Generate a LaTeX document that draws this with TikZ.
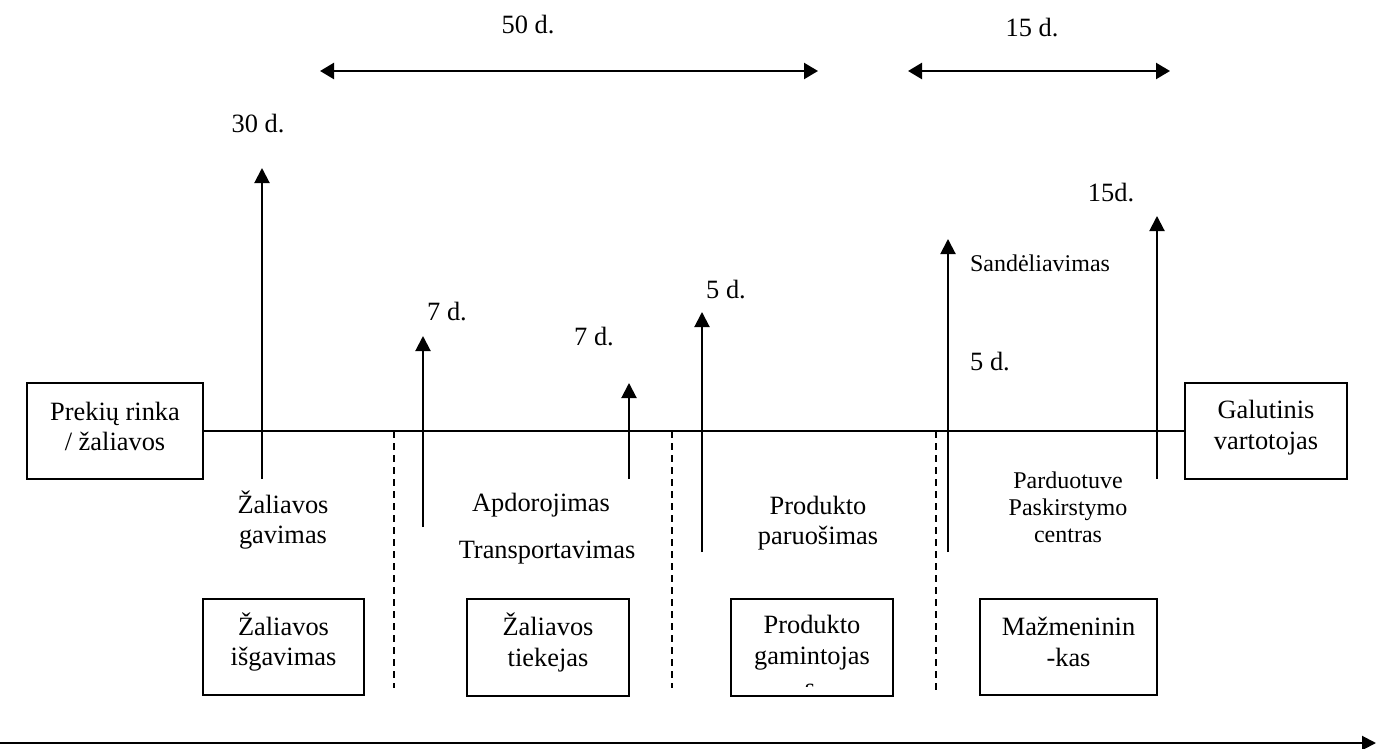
\documentclass[tikz,border=0pt]{standalone}
\usepackage{fontspec}
\setmainfont{Liberation Serif}
\usetikzlibrary{arrows.meta}
\begin{document}
\begin{tikzpicture}[x=0.5pt,y=-0.5pt,
  txt/.style={font=\fontsize{13.2}{15.3}\selectfont, inner sep=0pt, align=center},
  smalltxt/.style={font=\fontsize{12}{13.5}\selectfont, inner sep=0pt, align=center},
  box/.style={draw, line width=1pt, inner sep=0pt},
  flow/.style={line width=1pt},
  uparrow/.style={line width=1pt, -{Triangle[length=7.5pt,width=7.5pt]}},
  span/.style={line width=1.2pt, {Triangle[length=7pt,width=8pt]}-{Triangle[length=7pt,width=8pt]}},
  divider/.style={line width=0.8pt, dash pattern=on 3.5pt off 2.5pt},
  timeaxis/.style={line width=1pt, -{Triangle[length=7pt,width=7pt]}}]
\useasboundingbox (0,0) rectangle (1376,749);

% end points of the supply chain
\node[box, minimum width=88pt, minimum height=48pt] (market) at (115,431) {};
\node[txt] at ([yshift=2.2pt]market.center) {Prekių rinka\\/ žaliavos};
\node[box, minimum width=81pt, minimum height=48pt] (consumer) at (1266,431) {};
\node[txt] at ([yshift=1.8pt]consumer.center) {Galutinis\\vartotojas};
\draw[flow] (market.east) -- (consumer.west);

% participants
\node[box, minimum width=80.5pt, minimum height=48pt] (extract) at (283.5,647) {};
\node[txt] at ([yshift=2.4pt]extract.center) {Žaliavos\\išgavimas};
\node[box, minimum width=81pt, minimum height=48.5pt] (supplier) at (548,647.5) {};
\node[txt] at ([yshift=2.4pt]supplier.center) {Žaliavos\\tiekejas};
\node[box, minimum width=81pt, minimum height=48.5pt] (producer) at (812,647.5) {};
\node[txt] at ([yshift=2.4pt]producer.center) {Produkto\\gamintojas};
\node[box, minimum width=88.5pt, minimum height=48pt] (retailer) at (1068.5,647) {};
\node[txt] at ([yshift=2.4pt]retailer.center) {Mažmeninin\\-kas};
\begin{scope}
  \clip (795,680) rectangle (825,686);
  \node[txt] at (810,690) {s};
\end{scope}

% stage dividers
\coordinate (d1t) at (394,431); \coordinate (d1b) at (394,688);
\coordinate (d2t) at (672,431); \coordinate (d2b) at (672,688);
\coordinate (d3t) at (936,431); \coordinate (d3b) at (936,690);
\draw[divider] (d1t) -- (d1b);
\draw[divider] (d2t) -- (d2b);
\draw[divider] (d3t) -- (d3b);

% duration arrows
\coordinate (a1b) at (262,479); \coordinate (a1t) at (262,168);
\coordinate (a2b) at (423,527); \coordinate (a2t) at (423,336);
\coordinate (a3b) at (629,479); \coordinate (a3t) at (629,383);
\coordinate (a4b) at (702,552); \coordinate (a4t) at (702,312);
\coordinate (a5b) at (948,552); \coordinate (a5t) at (948,239);
\coordinate (a6b) at (1157,479); \coordinate (a6t) at (1157,216);
\draw[uparrow] (a1b) -- (a1t);
\draw[uparrow] (a2b) -- (a2t);
\draw[uparrow] (a3b) -- (a3t);
\draw[uparrow] (a4b) -- (a4t);
\draw[uparrow] (a5b) -- (a5t);
\draw[uparrow] (a6b) -- (a6t);

% overall spans
\coordinate (s1l) at (320,71); \coordinate (s1r) at (818,71);
\coordinate (s2l) at (908,71); \coordinate (s2r) at (1170,71);
\draw[span] (s1l) -- (s1r);
\draw[span] (s2l) -- (s2r);
\node[txt] (t50) at (528,25) {50 d.};
\node[txt] (t15a) at (1032,28) {15 d.};

% durations
\node[txt] (t30) at (258,124) {30 d.};
\node[txt] (t7a) at (447,312) {7 d.};
\node[txt] (t7b) at (594,337) {7 d.};
\node[txt] (t5a) at (726,290) {5 d.};
\node[txt] (t5b) at (990,362) {5 d.};
\node[txt] (t15b) at (1111,193) {15d.};
\node[smalltxt] (store) at (1040,263) {Sandėliavimas};

% activities
\node[txt] (getting) at (283,520) {Žaliavos\\gavimas};
\node[txt] (proc) at (541,505) {Apdorojimas};
\node[txt] (trans) at (547,553) {Transportavimas};
\node[txt] (prep) at (818,523) {Produkto\\paruošimas};
\node[smalltxt] (shop) at (1068,507) {Parduotuve\\Paskirstymo\\centras};

% time axis
\coordinate (axl) at (0,743); \coordinate (axr) at (1376,743);
\draw[timeaxis] (axl) -- (axr);
\end{tikzpicture}
\end{document}
